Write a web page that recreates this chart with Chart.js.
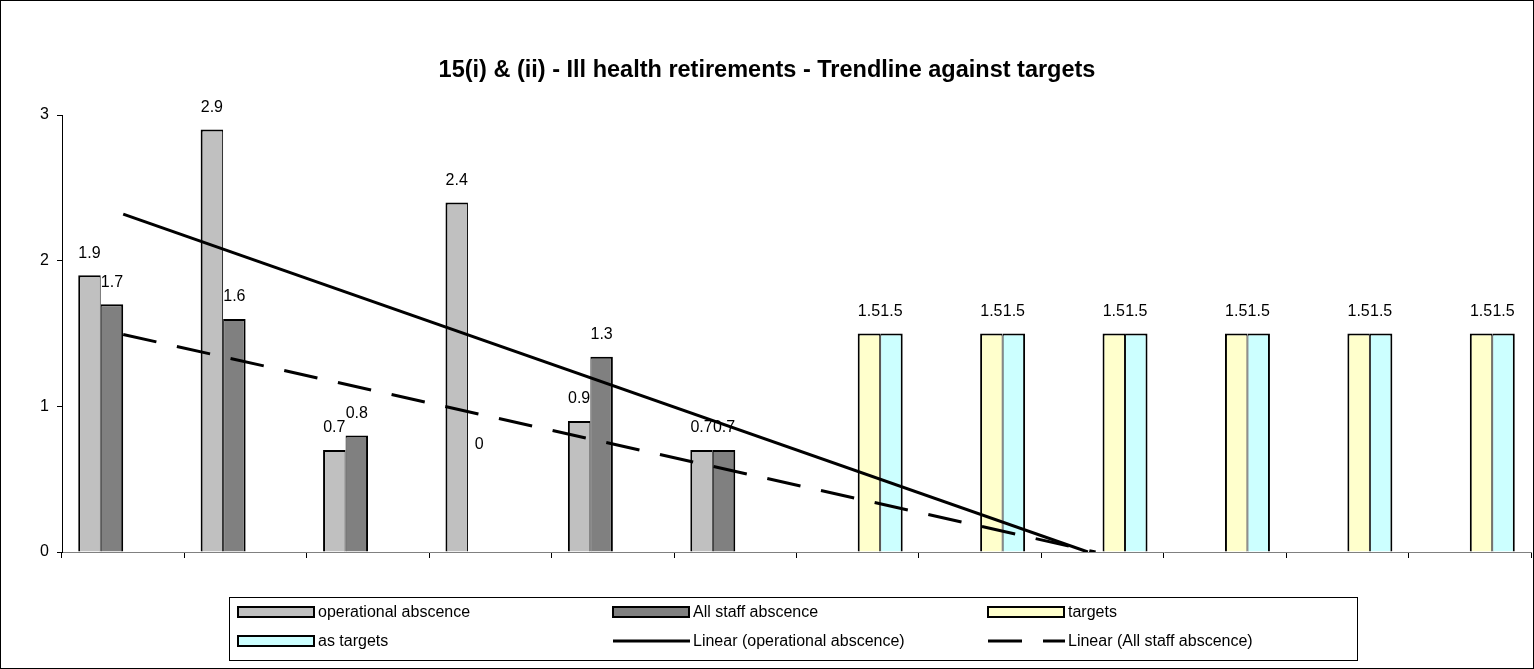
<!DOCTYPE html>
<html>
<head>
<meta charset="utf-8">
<script src="https://cdn.jsdelivr.net/npm/chart.js@4.4.1/dist/chart.umd.min.js"></script>
<style>
  html, body { margin: 0; padding: 0; background: #fff; }
  #wrap { width: 1534px; height: 669px; }
</style>
</head>
<body>
<div id="wrap"><canvas id="myChart" width="1534" height="669"></canvas></div>
<script>
// periods (unlabelled on the original chart)
var categories = ['', '', '', '', '', '', '', '', '', '', '', ''];
var operational = [1.9, 2.9, 0.7, 2.4, 0.9, 0.7, null, null, null, null, null, null];
var allStaff = [1.7, 1.6, 0.8, 0, 1.34, 0.7, null, null, null, null, null, null];
var targets = [null, null, null, null, null, null, 1.5, 1.5, 1.5, 1.5, 1.5, 1.5];
var asTargets = [null, null, null, null, null, null, 1.5, 1.5, 1.5, 1.5, 1.5, 1.5];
var yTicks = [0, 1, 2, 3];
var forecastTo = 9; // trendline forecast up to this period

var FONT = 'Arial, "Liberation Sans", sans-serif';

// least squares trendline over the non-null points, clipped at 0
function trend(values) {
    var xs = [], ys = [];
    values.forEach(function (v, i) {
        if (v !== null) { xs.push(i + 1); ys.push(v); }
    });
    var n = xs.length, mx = 0, my = 0;
    for (var i = 0; i < n; i++) { mx += xs[i] / n; my += ys[i] / n; }
    var sxy = 0, sxx = 0;
    for (i = 0; i < n; i++) { sxy += (xs[i] - mx) * (ys[i] - my); sxx += (xs[i] - mx) * (xs[i] - mx); }
    var b = sxy / sxx, a = my - b * mx;
    var x1 = xs[0], x2 = forecastTo;
    if (a + b * x2 < 0) x2 = -a / b;
    return [{ x: x1, y: a + b * x1 }, { x: x2, y: Math.max(0, a + b * x2) }];
}

var trendlines = [
    { label: 'Linear (operational abscence)', points: trend(operational), dash: [] },
    { label: 'Linear (All staff abscence)', points: trend(allStaff), dash: [34, 21] }
];

function fmt(v) { return String(Number(v.toFixed(1))); }

// trendlines, drawn on the category scale (period p -> index p - 1)
var trendPlugin = {
    id: 'trendPlugin',
    afterDatasetsDraw: function (chart) {
        var ctx = chart.ctx, xs = chart.scales.x, ys = chart.scales.y, area = chart.chartArea;
        ctx.save();
        ctx.beginPath();
        ctx.rect(area.left, area.top - 2, area.right - area.left, area.bottom - area.top + 2);
        ctx.clip();
        ctx.strokeStyle = '#000';
        ctx.lineWidth = 3;
        trendlines.forEach(function (t) {
            ctx.setLineDash(t.dash);
            ctx.beginPath();
            t.points.forEach(function (p, i) {
                var px = xs.getPixelForValue(p.x - 1), py = ys.getPixelForValue(p.y);
                if (i === 0) ctx.moveTo(px, py); else ctx.lineTo(px, py);
            });
            ctx.stroke();
        });
        ctx.restore();
    }
};

var barLabels = {
    id: 'barLabels',
    afterDatasetsDraw: function (chart) {
        var ctx = chart.ctx;
        ctx.save();
        ctx.font = '16px ' + FONT;
        ctx.fillStyle = '#000';
        ctx.textAlign = 'center';
        ctx.textBaseline = 'middle';
        chart.data.datasets.forEach(function (ds, di) {
            var meta = chart.getDatasetMeta(di);
            meta.data.forEach(function (el, i) {
                var v = ds.data[i];
                if (v === null) return;
                var lift = v === 0 ? 107 : 22;
                ctx.fillText(fmt(v), el.x, el.y - lift);
            });
        });
        ctx.restore();
    }
};

var legendAndFrame = {
    id: 'legendAndFrame',
    afterDraw: function (chart) {
        var ctx = chart.ctx;
        ctx.save();
        // outer frame
        ctx.strokeStyle = '#000';
        ctx.lineWidth = 1;
        ctx.strokeRect(0.5, 0.5, chart.width - 1, chart.height - 1);

        // legend box
        var bx = 229, by = 597, bw = 1128, bh = 63;
        ctx.strokeRect(bx + 0.5, by + 0.5, bw, bh);
        var items = chart.data.datasets.map(function (ds) {
            return { label: ds.label, fill: ds.backgroundColor };
        }).concat(trendlines.map(function (t) {
            return { label: t.label, dash: t.dash };
        }));
        var colW = 375, rowY = [612, 641];
        ctx.font = '16px ' + FONT;
        ctx.textBaseline = 'middle';
        ctx.textAlign = 'left';
        items.forEach(function (it, k) {
            var col = k % 3, row = Math.floor(k / 3);
            var x = bx + 9 + col * colW, y = rowY[row];
            if (it.dash) {
                ctx.strokeStyle = '#000';
                ctx.lineWidth = 3;
                ctx.setLineDash(it.dash);
                ctx.beginPath();
                ctx.moveTo(x, y);
                ctx.lineTo(x + 77, y);
                ctx.stroke();
                ctx.setLineDash([]);
            } else {
                ctx.fillStyle = it.fill;
                ctx.fillRect(x, y - 5, 76, 10);
                ctx.strokeStyle = '#000';
                ctx.lineWidth = 2;
                ctx.strokeRect(x, y - 5, 76, 10);
            }
            ctx.fillStyle = '#000';
            ctx.fillText(it.label, x + 80, y + 1);
        });
        ctx.restore();
    }
};

function barBorder(side) {
    return side === 'left'
        ? { top: 2, left: 2, right: 1, bottom: 0 }
        : { top: 2, left: 1, right: 2, bottom: 0 };
}

new Chart(document.getElementById('myChart'), {
    type: 'bar',
    data: {
        labels: categories,
        datasets: [
            { label: 'operational abscence', data: operational, backgroundColor: '#C0C0C0',
              borderColor: '#000', borderWidth: barBorder('left'), borderSkipped: false },
            { label: 'All staff abscence', data: allStaff, backgroundColor: '#808080',
              borderColor: '#000', borderWidth: barBorder('right'), borderSkipped: false },
            { label: 'targets', data: targets, backgroundColor: '#FFFFCC',
              borderColor: '#000', borderWidth: barBorder('left'), borderSkipped: false },
            { label: 'as targets', data: asTargets, backgroundColor: '#CCFFFF',
              borderColor: '#000', borderWidth: barBorder('right'), borderSkipped: false }
        ]
    },
    options: {
        responsive: false,
        animation: false,
        layout: { padding: { left: 3, right: 3, top: 0, bottom: 111 } },
        datasets: { bar: { categoryPercentage: 0.735, barPercentage: 1 } },
        plugins: {
            legend: { display: false },
            tooltip: { enabled: false },
            title: {
                display: true,
                text: '15(i) & (ii) - Ill health retirements - Trendline against targets',
                color: '#000',
                font: { family: FONT, size: 23.5, weight: 'bold', lineHeight: 1.2 },
                padding: { top: 56, bottom: 30.8 }
            }
        },
        scales: {
            x: {
                offset: true,
                grid: { offset: true, display: true, drawOnChartArea: false, drawTicks: true,
                        tickLength: 6, color: '#000' },
                border: { display: true, color: '#808080', width: 1 },
                ticks: { display: false }
            },
            y: {
                min: 0, max: 3,
                afterBuildTicks: function (axis) {
                    axis.ticks = yTicks.map(function (v) { return { value: v }; });
                },
                afterFit: function (axis) { axis.width = 59; },
                grid: { drawOnChartArea: false, drawTicks: true, tickLength: 5, color: '#000' },
                border: { display: true, color: '#000', width: 1 },
                ticks: { color: '#000', padding: 8, font: { family: FONT, size: 16 } }
            }
        }
    },
    plugins: [trendPlugin, barLabels, legendAndFrame]
});
</script>
</body>
</html>
